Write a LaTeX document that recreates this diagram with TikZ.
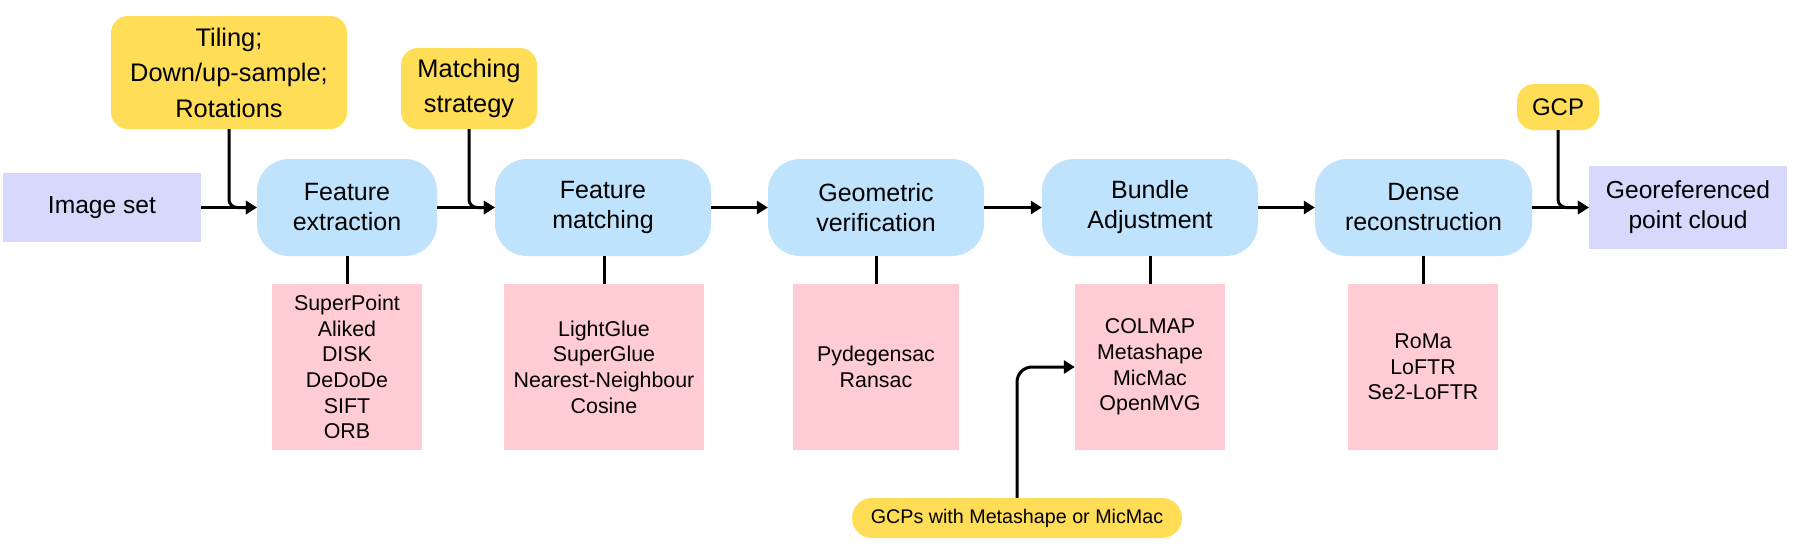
\documentclass[tikz,border=0pt]{standalone}
\usepackage{fontspec}
\setmainfont{Liberation Sans}
\usetikzlibrary{arrows.meta}
\definecolor{stepblue}{HTML}{BFE3FC}
\definecolor{endpurple}{HTML}{D6D8FC}
\definecolor{noteyellow}{HTML}{FFDD57}
\definecolor{toolpink}{HTML}{FFCCD3}
\tikzset{
  stepbox/.style={fill=stepblue, rounded corners=32pt, inner sep=0pt, align=center,
    minimum height=97pt, font=\fontsize{25}{30}\selectfont},
  endbox/.style={fill=endpurple, inner sep=0pt, align=center, minimum width=198pt,
    font=\fontsize{24.6}{30}\selectfont},
  notebox/.style={fill=noteyellow, rounded corners=17pt, inner sep=0pt, align=center,
    font=\fontsize{25.4}{35.5}\selectfont},
  toolbox/.style={fill=toolpink, inner sep=0pt, align=center, minimum height=166pt,
    font=\fontsize{21.4}{25.7}\selectfont},
  conn/.style={line width=3pt, -{Triangle[length=11pt,width=13pt]}},
  tie/.style={line width=3pt}
}
\begin{document}
\begin{tikzpicture}[x=1pt,y=-1pt]
\path[use as bounding box] (0,0) rectangle (1794,550);
% main row
\node[endbox, minimum height=69pt] (img) at (102,207.5) {Image set};
\node[stepbox, minimum width=180pt] (fe) at (347,207.5) {Feature\\extraction};
\node[stepbox, minimum width=216pt] (fm) at (603,207.5) {Feature\\matching};
\node[stepbox, minimum width=216pt] (gv) at (876,207.5) {Geometric\\verification};
\node[stepbox, minimum width=216pt] (ba) at (1150,207.5) {Bundle\\Adjustment};
\node[stepbox, minimum width=217pt] (dr) at (1423.5,207.5) {Dense\\reconstruction};
\node[endbox, minimum height=83pt] (geo) at (1688,207.5) {Georeferenced\\point cloud};
% notes
\node[notebox, minimum width=236pt, minimum height=113pt] (til) at (229,72.5) {Tiling;\\Down/up-sample;\\Rotations};
\node[notebox, minimum width=136pt, minimum height=81pt] (mst) at (469,88.5) {Matching\\strategy};
\node[notebox, minimum width=82pt, minimum height=46pt, font=\fontsize{24}{30}\selectfont] (gcp) at (1558,107) {GCP};
\node[fill=noteyellow, rounded corners=20pt, inner sep=0pt, minimum width=330pt, minimum height=40pt,
  font=\fontsize{19.7}{24}\selectfont] (pill) at (1017,518) {GCPs with Metashape or MicMac};
% tools
\node[toolbox, minimum width=150pt] (p1) at (347,367) {SuperPoint\\Aliked\\DISK\\DeDoDe\\SIFT\\ORB};
\node[toolbox, minimum width=200pt] (p2) at (604,367) {LightGlue\\SuperGlue\\Nearest-Neighbour\\Cosine};
\node[toolbox, minimum width=166pt] (p3) at (876,367) {Pydegensac\\Ransac};
\node[toolbox, minimum width=150pt] (p4) at (1150,367) {COLMAP\\Metashape\\MicMac\\OpenMVG};
\node[toolbox, minimum width=150pt] (p5) at (1423,367) {RoMa\\LoFTR\\Se2-LoFTR};
% connectors
\draw[conn] (img) -- (fe);
\draw[conn] (fe) -- (fm);
\draw[conn] (fm) -- (gv);
\draw[conn] (gv) -- (ba);
\draw[conn] (ba) -- (dr);
\draw[conn] (dr) -- (geo);
\draw[conn, rounded corners=8pt] (til.south) |- (fe.west);
\draw[conn, rounded corners=8pt] (mst.south) |- (fm.west);
\draw[conn, rounded corners=8pt] (gcp.south) |- (geo.west);
\draw[conn, rounded corners=15pt] (pill.north) |- (p4.west);
\draw[tie] (fe.south) -- (p1.north);
\draw[tie] (fm.south -| p2.north) -- (p2.north);
\draw[tie] (gv.south) -- (p3.north);
\draw[tie] (ba.south) -- (p4.north);
\draw[tie] (dr.south -| p5.north) -- (p5.north);
\end{tikzpicture}
\end{document}
